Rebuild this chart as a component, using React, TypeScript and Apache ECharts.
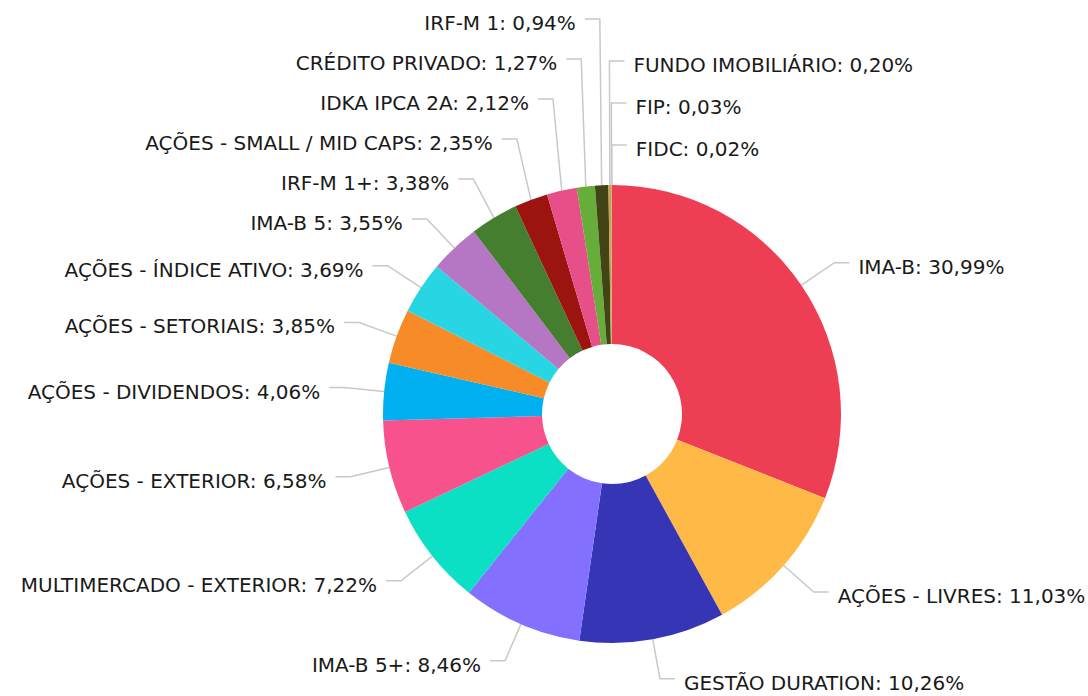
import React, { useEffect, useRef } from "react";
import * as echarts from "echarts";

const categories = [
  "IMA-B",
  "AÇÕES - LIVRES",
  "GESTÃO DURATION",
  "IMA-B 5+",
  "MULTIMERCADO - EXTERIOR",
  "AÇÕES - EXTERIOR",
  "AÇÕES - DIVIDENDOS",
  "AÇÕES - SETORIAIS",
  "AÇÕES - ÍNDICE ATIVO",
  "IMA-B 5",
  "IRF-M 1+",
  "AÇÕES - SMALL / MID CAPS",
  "IDKA IPCA 2A",
  "CRÉDITO PRIVADO",
  "IRF-M 1",
  "FUNDO IMOBILIÁRIO",
  "FIP",
  "FIDC",
];

const values = [
  30.99, 11.03, 10.26, 8.46, 7.22, 6.58, 4.06, 3.85, 3.69, 3.55, 3.38, 2.35,
  2.12, 1.27, 0.94, 0.2, 0.03, 0.02,
];

const colors = [
  "#EE3E54", "#FFB946", "#3535B5", "#8470FF", "#0BDFC4", "#F8528C",
  "#00B0F0", "#F68B27", "#27D5E3", "#B577C4", "#467E2F", "#9C140F",
  "#E74F89", "#66AD3A", "#434416", "#C8A24E", "#D9C27A", "#8C6D3F",
];

// layout constants
const CX = 612;
const CY = 414;
const R_IN = 70;
const R_OUT = 229;
const LEN1 = 40;
const LEN2 = 15;
const GAP = 9;
const TEXT_DY = 4;
const START = 90;
const RIGHT_THRESHOLD = -0.02; // tiny slices just left of the top go to the right column
const STEP_LEFT = 40;
const STEP_RIGHT = 42;

const fmt = (v: number) => v.toFixed(2).replace(".", ",") + "%";

type LabelPos = {
  right: boolean;
  key: number;
  ex: number;
  ey: number;
  tx: number;
  ty: number;
  y: number;
};

function computeLabelLayout(): LabelPos[] {
  const total = values.reduce((a, b) => a + b, 0);
  let acc = 0;
  const items: LabelPos[] = values.map((v) => {
    const deg = 90 - START + (360 * (acc + v / 2)) / total;
    acc += v;
    const th = (deg * Math.PI) / 180;
    const s = Math.sin(th);
    const c = Math.cos(th);
    const right = s >= RIGHT_THRESHOLD;
    const norm = ((deg % 360) + 360) % 360;
    // angle measured along the column: right side runs -90..270 from top, left side 0..360
    const key = right ? (norm > 270 ? norm - 360 : norm) : norm;
    const ty = CY - (R_OUT + LEN1) * c;
    return {
      right,
      key,
      ex: CX + R_OUT * s,
      ey: CY - R_OUT * c,
      tx: CX + (R_OUT + LEN1) * s,
      ty,
      y: ty,
    };
  });
  [true, false].forEach((side) => {
    const step = side ? STEP_RIGHT : STEP_LEFT;
    // order from the equator upwards
    const upper = items
      .filter((it) => it.right === side && it.ty < CY)
      .sort((a, b) => (side ? b.key - a.key : a.key - b.key));
    let prev = Infinity;
    upper.forEach((it) => {
      it.y = Math.min(it.ty, prev - step);
      prev = it.y;
    });
    // order from the equator downwards
    const lower = items
      .filter((it) => it.right === side && it.ty >= CY)
      .sort((a, b) => (side ? a.key - b.key : b.key - a.key));
    prev = -Infinity;
    lower.forEach((it) => {
      it.y = Math.max(it.ty, prev + step);
      prev = it.y;
    });
  });
  return items;
}

export default function App() {
  const ref = useRef<HTMLDivElement>(null);
  useEffect(() => {
    document.body.style.margin = "0";
    const layout = computeLabelLayout();
    const chart = echarts.init(ref.current!, undefined, { renderer: "svg" });
    chart.setOption({
      animation: false,
      series: [
        {
          type: "pie",
          center: [CX, CY],
          radius: [R_IN, R_OUT],
          startAngle: START,
          clockwise: true,
          avoidLabelOverlap: false,
          data: categories.map((name, i) => ({
            name,
            value: values[i],
            itemStyle: { color: colors[i] },
          })),
          label: {
            formatter: (p: any) => `${p.name}: ${fmt(values[p.dataIndex])}`,
            fontFamily: "'DejaVu Sans', sans-serif",
            fontSize: 20,
            color: "#1a1a1a",
          },
          labelLine: {
            length: LEN1,
            length2: LEN2,
            lineStyle: { color: "#c8c8c8", width: 1.5 },
          },
          labelLayout: (params: any) => {
            const it = layout[params.dataIndex];
            const dir = it.right ? 1 : -1;
            const hx = it.tx + dir * LEN2;
            return {
              x: hx + dir * GAP,
              y: it.y + TEXT_DY,
              align: it.right ? "left" : "right",
              verticalAlign: "middle",
              labelLinePoints: [
                [it.ex, it.ey],
                [it.tx, it.y],
                [hx, it.y],
              ],
            };
          },
          emphasis: { disabled: true },
        },
      ],
    });
    return () => chart.dispose();
  }, []);
  return <div ref={ref} style={{ width: 1088, height: 696 }} />;
}
